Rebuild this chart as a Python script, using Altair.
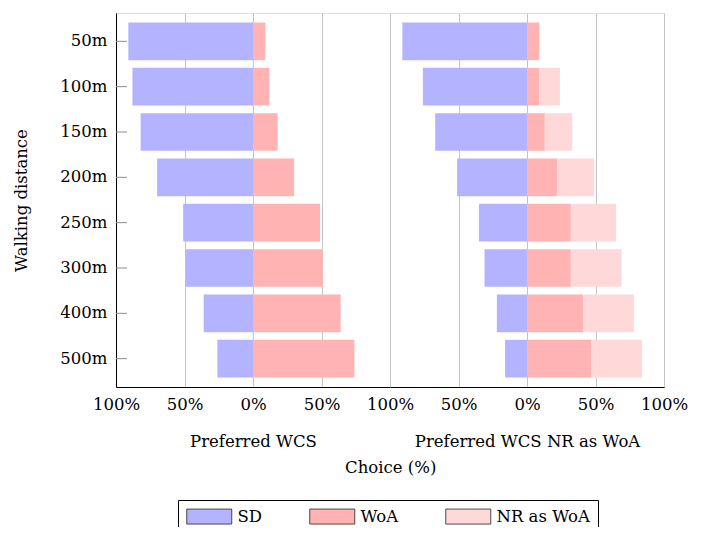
import altair as alt
import pandas as pd

distances = ["50m", "100m", "150m", "200m", "250m", "300m", "400m", "500m"]
types = ["SD", "WoA", "NR as WoA"]
colors = ["#b3b3ff", "#ffb3b3", "#ffd9d9"]

# Preferred WCS
wcs_sd = [91, 88, 82, 70, 51, 49, 36, 26]
wcs_woa = [9, 12, 18, 30, 49, 51, 64, 74]

# Preferred WCS NR as WoA
nr_sd = [91, 76, 67, 51, 35, 31, 22, 16]
nr_woa = [9, 9, 13, 22, 32, 32, 41, 47]
nr_nr = [0, 15, 20, 27, 33, 37, 37, 37]

tick_values = [-100, -50, 0, 50, 100]
FONT = "DejaVu Serif"
FS = 16.5


def panel_df(sd, woa, nr=None):
    rows = []
    for i, d in enumerate(distances):
        rows.append(dict(distance=d, type="SD", start=-sd[i], end=0))
        rows.append(dict(distance=d, type="WoA", start=0, end=woa[i]))
        if nr is not None and nr[i] > 0:
            rows.append(dict(distance=d, type="NR as WoA", start=woa[i], end=woa[i] + nr[i]))
    return pd.DataFrame(rows)


color_enc = alt.Color(
    "type:N",
    scale=alt.Scale(domain=types, range=colors),
    legend=alt.Legend(
        title=None,
        orient="none",
        legendX=62,
        legendY=487,
        direction="horizontal",
        columns=3,
        symbolType="M-1,-1L5,-1L5,1L-1,1Z",
        symbolSize=225,
        symbolStrokeColor="#222222",
        symbolStrokeWidth=0.8,
        symbolOpacity=1,
        labelFont=FONT,
        labelFontSize=FS,
        labelColor="black",
        labelOffset=35,
        columnPadding=45,
        strokeColor="black",
        padding=8,
    ),
)


def make_panel(df, title, show_y):
    y_axis = (
        alt.Axis(
            title="Walking distance",
            titleFont=FONT,
            titleFontSize=FS,
            titleFontWeight="normal",
            titleColor="black",
            titlePadding=30,
            labelFont=FONT,
            labelFontSize=FS,
            labelColor="black",
            labelPadding=9,
            ticks=False,
            domainColor="black",
            domainWidth=1,
            grid=False,
        )
        if show_y
        else None
    )
    label_expr = (
        "abs(datum.value) + '%'"
        if show_y
        else "datum.value == -100 ? '' : abs(datum.value) + '%'"
    )
    y = alt.Y(
        "distance:N",
        sort=distances,
        scale=alt.Scale(paddingInner=0.17, paddingOuter=0.21),
        axis=y_axis,
    )
    x = alt.X(
        "start:Q",
        scale=alt.Scale(domain=[-100, 100], nice=False, zero=False),
        axis=alt.Axis(
            values=tick_values,
            labelExpr=label_expr,
            title=title,
            titleFont=FONT,
            titleFontSize=FS,
            titleFontWeight="normal",
            titleColor="black",
            titlePadding=21,
            labelFont=FONT,
            labelFontSize=FS,
            labelColor="black",
            labelPadding=9,
            labelOverlap=False,
            labelFlush=False,
            ticks=False,
            domainColor="black",
            domainWidth=1,
            grid=True,
            gridColor="#c4c4c4",
            gridWidth=1,
        ),
    )
    bars = alt.Chart(df).mark_bar(opacity=1).encode(
        y=y, x=x, x2="end:Q", color=color_enc
    )
    if show_y:
        ticks = alt.Chart(pd.DataFrame({"distance": distances})).mark_rule(
            color="#8c8c8c", strokeWidth=1
        ).encode(
            y=alt.Y("distance:N", sort=distances),
            x=alt.value(0),
            x2=alt.value(11),
        )
        return alt.layer(bars, ticks).properties(width=274, height=374)
    return bars.properties(width=274, height=374)


left = make_panel(panel_df(wcs_sd, wcs_woa), "Preferred WCS", True)
right = make_panel(panel_df(nr_sd, nr_woa, nr_nr), "Preferred WCS NR as WoA", False)

inner = alt.hconcat(left, right, spacing=0, bounds="flush").properties(
    title=alt.TitleParams(
        "Choice (%)",
        orient="bottom",
        anchor="middle",
        font=FONT,
        fontSize=FS,
        fontWeight="normal",
        color="black",
        offset=9,
        dx=40,
    )
)

chart = (
    alt.vconcat(inner)
    .properties(padding={"left": 5, "top": 4, "right": 0, "bottom": -8})
    .configure_view(stroke=None)
    .configure(background="white")
)

chart.save("out.html", embed_options={"renderer": "svg", "actions": False})
